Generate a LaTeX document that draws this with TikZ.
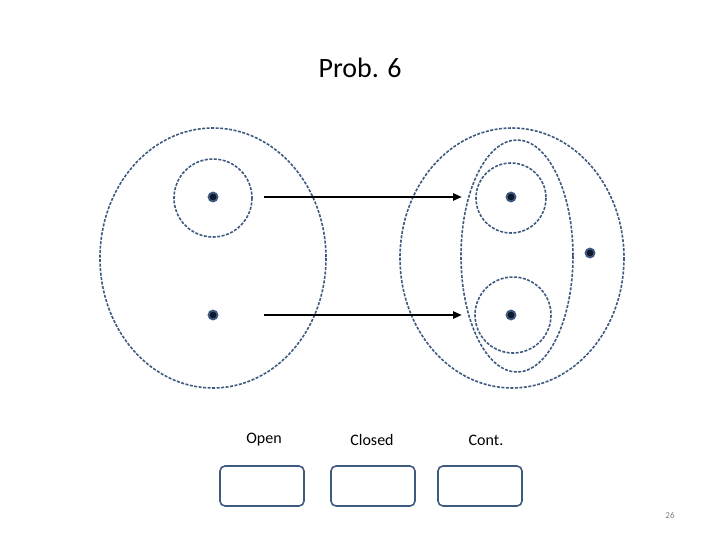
\documentclass[tikz,border=0pt]{standalone}
\usepackage{fontspec}
\setmainfont{Carlito}
\usetikzlibrary{arrows.meta}
\definecolor{setblue}{RGB}{62,90,128}
\definecolor{dotnavy}{RGB}{15,25,45}
\begin{document}
\begin{tikzpicture}[x=1pt, y=-1pt,
				    set/.style={draw=setblue, line width=1.6pt, dash pattern=on 3pt off 1.5pt},
				    pt/.style={circle, draw=setblue, fill=dotnavy, line width=1.8pt, inner sep=0pt, minimum size=9pt},
				    box/.style={draw=setblue, line width=1.6pt, rounded corners=5pt, minimum width=84pt, minimum height=40pt},
				    map/.style={-{Triangle[length=9pt, width=7pt]}, line width=2.2pt, black}]
	\useasboundingbox (0,0) rectangle (720,540);
	\node[font=\fontsize{28}{32}\selectfont] (title) at (360,68) {Prob. 6};

	% the two spaces
	\draw[set] (213,258) ellipse [x radius=113, y radius=130];
	\draw[set] (512,258) ellipse [x radius=112, y radius=130];
	\draw[set] (517,256) ellipse [x radius=56, y radius=116];
	\draw[set] (213,198) circle [radius=39];
	\draw[set] (511,198) circle [radius=35];
	\draw[set] (513,315) circle [radius=38];

	\node[pt] (a1) at (213,197) {};
	\node[pt] (a2) at (213,315) {};
	\node[pt] (b1) at (511,197) {};
	\node[pt] (b2) at (511,315) {};
	\node[pt] (b3) at (590,253) {};

	\coordinate (s1) at (264,197);
	\coordinate (s2) at (264,315);
	\coordinate (t1) at (462,197);
	\coordinate (t2) at (462,315);
	\draw[map] (s1) -- (t1);
	\draw[map] (s2) -- (t2);

	% answer boxes
	\node[font=\fontsize{16}{19}\selectfont] (open) at (264,440) {Open};
	\node[font=\fontsize{16}{19}\selectfont] (closed) at (372,440) {Closed};
	\node[font=\fontsize{16}{19}\selectfont] (cont) at (486,440) {Cont.};
	\node[box] (bo) at (262,486) {};
	\node[box] (bc) at (373,486) {};
	\node[box] (bn) at (480,486) {};

	\node[font=\fontsize{9}{11}\selectfont, text=gray] (page) at (670,515) {26};
\end{tikzpicture}
\end{document}
